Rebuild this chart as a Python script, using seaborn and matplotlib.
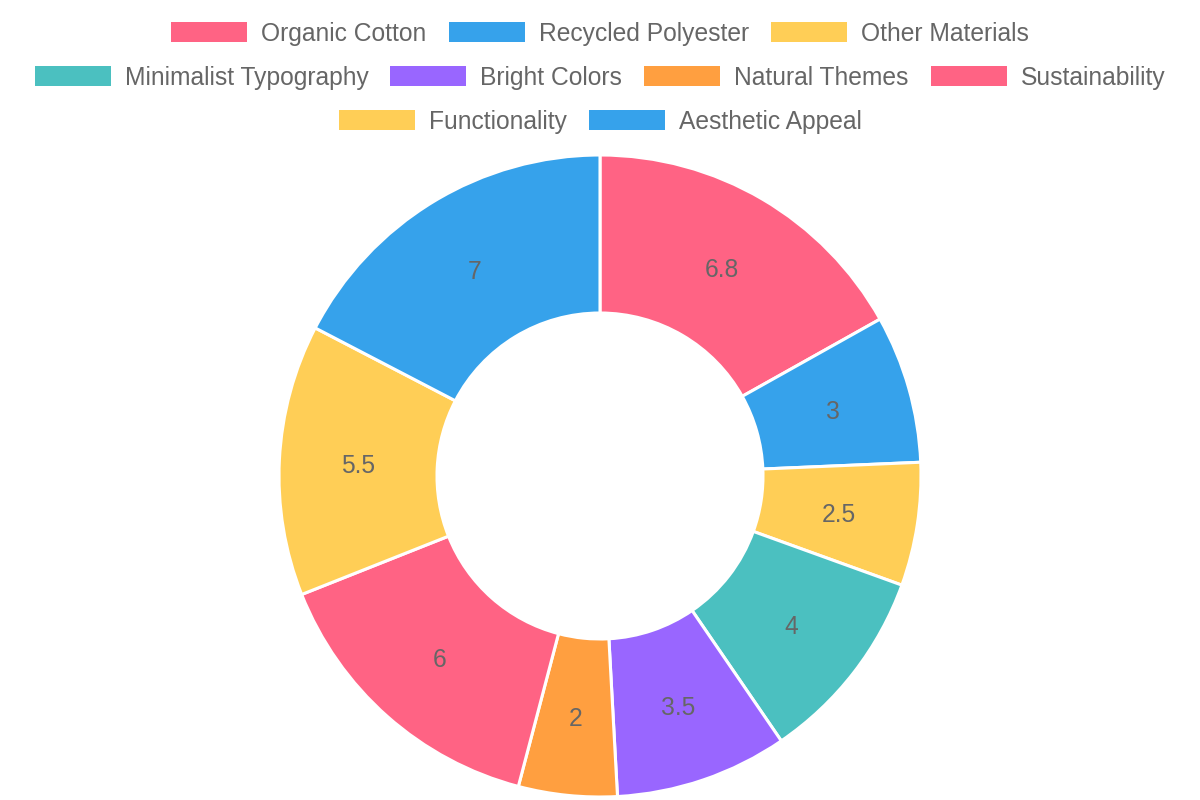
import matplotlib
matplotlib.use("Agg")
import matplotlib.pyplot as plt
import seaborn as sns
import numpy as np
from matplotlib.patches import Rectangle

# Chart data
categories = ["Organic Cotton", "Recycled Polyester", "Other Materials",
              "Minimalist Typography", "Bright Colors", "Natural Themes",
              "Sustainability", "Functionality", "Aesthetic Appeal"]
values = [6.8, 3, 2.5, 4, 3.5, 2, 6, 5.5, 7]
value_labels = ["6.8", "3", "2.5", "4", "3.5", "2", "6", "5.5", "7"]
colors = ["#FF6384", "#36A2EB", "#FFCE56", "#4BC0C0", "#9966FF",
          "#FF9F40", "#FF6384", "#FFCE56", "#36A2EB"]
legend_rows = [[0, 1, 2], [3, 4, 5, 6], [7, 8]]

sns.set_theme(style="white")
plt.rcParams['font.family'] = ['Liberation Sans', 'DejaVu Sans']

W, H = 1200, 800
FS = 17.7
fig = plt.figure(figsize=(12, 8), dpi=100)
fig.patch.set_facecolor("white")

# donut
cx, cy, R, r_in = 600, 476, 321, 163
ax = fig.add_axes([(cx - R) / W, (H - cy - R) / H, 2 * R / W, 2 * R / H])
wedges, _ = ax.pie(values, colors=colors, startangle=90, counterclock=False,
                   wedgeprops=dict(width=(R - r_in) / R, edgecolor="white",
                                   linewidth=2.2))
ax.set_xlim(-1, 1)
ax.set_ylim(-1, 1)
ax.set_aspect("equal")

mid_r = (R + r_in) / 2 / R
for w, lab in zip(wedges, value_labels):
    ang = np.deg2rad((w.theta1 + w.theta2) / 2)
    ax.text(mid_r * np.cos(ang), mid_r * np.sin(ang) - 2.5 / R, lab,
            ha="center", va="center", fontsize=FS, color="#666666")

# legend, drawn in pixel space
lax = fig.add_axes([0, 0, 1, 1])
lax.set_xlim(0, W)
lax.set_ylim(H, 0)
lax.axis("off")
renderer = fig.canvas.get_renderer()

box_w, box_h, gap_txt, gap_item = 76, 20, 14, 22
row_y = [32, 76, 120]
for row, yc in zip(legend_rows, row_y):
    texts = []
    widths = []
    for i in row:
        t = lax.text(0, yc + 2, categories[i], fontsize=FS, color="#666666",
                     va="center", ha="left")
        texts.append(t)
        widths.append(t.get_window_extent(renderer).width)
    total = sum(box_w + gap_txt + tw for tw in widths) + gap_item * (len(row) - 1)
    x = (W - total) / 2
    for i, t, tw in zip(row, texts, widths):
        lax.add_patch(Rectangle((x, yc - box_h / 2), box_w, box_h,
                                facecolor=colors[i], edgecolor="none"))
        t.set_x(x + box_w + gap_txt)
        x += box_w + gap_txt + tw + gap_item

fig.savefig("out.png", dpi=100, facecolor="white")
